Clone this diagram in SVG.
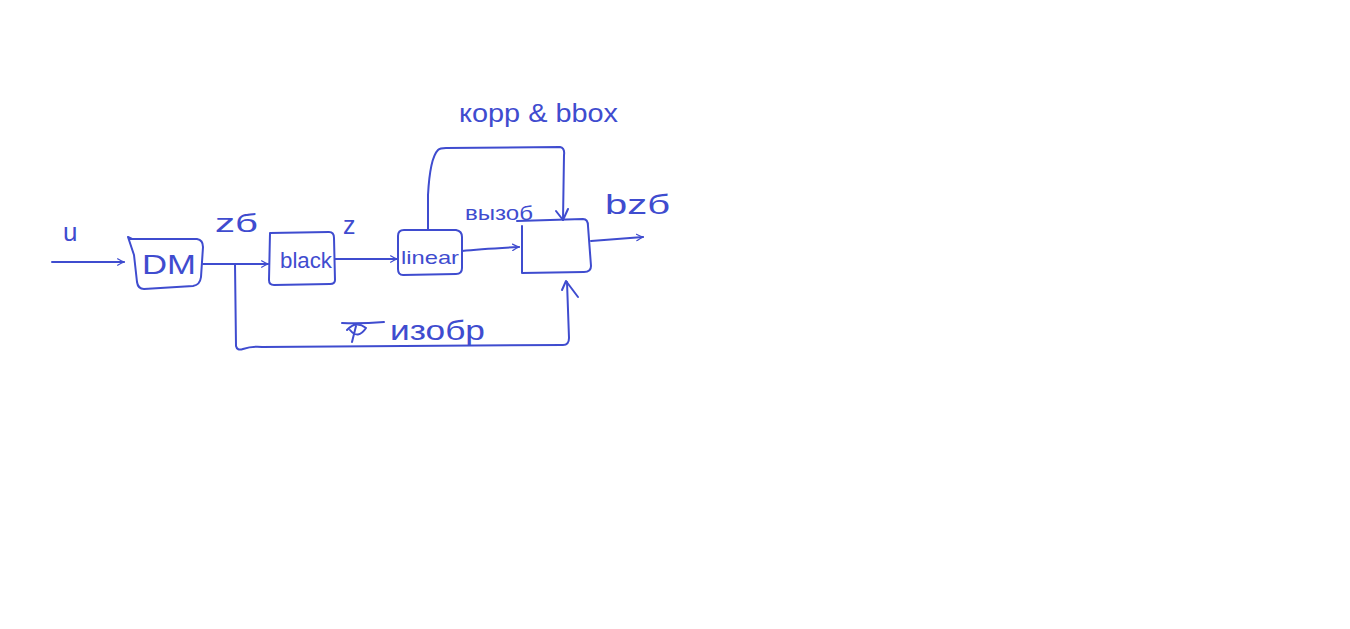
<svg xmlns="http://www.w3.org/2000/svg" width="1350" height="629" viewBox="0 0 1350 629">
<style>
.s{fill:none;stroke:#3f4ccf;stroke-width:2;stroke-linecap:round;stroke-linejoin:round}
.t{fill:#3f4ccf;font-family:"Liberation Sans","DejaVu Sans",sans-serif}
</style>
<defs>
<marker id="a" viewBox="0 0 10 10" refX="9" refY="5" markerWidth="8" markerHeight="8" orient="auto" markerUnits="userSpaceOnUse">
<path d="M1,1 Q6,4 9,5 Q6,6 1,9" fill="none" stroke="#3f4ccf" stroke-width="1.6" stroke-linecap="round"/>
</marker>
</defs>
<rect width="1350" height="629" fill="#fff"/>
<g id="connectors">
<path class="s" d="M52,262 L124,262" marker-end="url(#a)"/>
<path class="s" d="M203,264 L268,264" marker-end="url(#a)"/>
<path class="s" d="M235,264 L236,346 Q237,351 243,349 Q252,346 262,347 L563,345 Q569,345 569,338 L567,282"/>
<path class="s" d="M562,290 L566,281 L578,297"/>
<path class="s" d="M335,259 L397,259" marker-end="url(#a)"/>
<path class="s" d="M428,230 L428,195 Q430,158 438,150 Q440,148 446,148 L560,147 Q565,148 564,155 L563,220"/>
<path class="s" d="M556,211 L563,220 L568,209"/>
<path class="s" d="M462,251 Q480,249 519,247" marker-end="url(#a)"/>
<path class="s" d="M591,241 L643,237" marker-end="url(#a)"/>
</g>
<g id="n-u"><text class="t" x="63" y="241" font-size="26">u</text></g>
<g id="n-dm">
<path class="s" d="M128,237 L132,239 L197,239 Q203,240 203,247 L201,277 Q200,285 193,286 L144,289 Q138,289 137,282 L134,255 Z"/>
<text class="t" x="142" y="274" font-size="27" textLength="54" lengthAdjust="spacingAndGlyphs">DM</text>
</g>
<g id="n-zb"><text class="t" x="215" y="232" font-size="26" textLength="43" lengthAdjust="spacingAndGlyphs">zб</text></g>
<g id="n-black">
<path class="s" d="M270,233 L329,232 Q334,232 334,238 L335,280 Q335,284 330,284 L274,285 Q269,285 269,280 Z"/>
<text class="t" x="280" y="268" font-size="22" textLength="52" lengthAdjust="spacingAndGlyphs">black</text>
</g>
<g id="n-z"><text class="t" x="343" y="234" font-size="25">z</text></g>
<g id="n-linear">
<path class="s" d="M404,230 L456,230 Q462,231 462,237 L462,268 Q462,274 456,274 L403,275 Q398,275 398,269 L398,236 Q398,230 404,230 Z"/>
<text class="t" x="401" y="264" font-size="19" textLength="58" lengthAdjust="spacingAndGlyphs">linear</text>
</g>
<g id="n-korr"><text class="t" x="459" y="122" font-size="25" textLength="159" lengthAdjust="spacingAndGlyphs">корр &amp; bbox</text></g>
<g id="n-vyzob"><text class="t" x="465" y="220" font-size="21" textLength="68" lengthAdjust="spacingAndGlyphs">вызоб</text></g>
<g id="n-out">
<path class="s" d="M517,221 L583,219 Q588,219 588,226 L591,266 Q591,272 584,272 L522,273 L522,226"/>
</g>
<g id="n-bzb"><text class="t" x="605" y="214" font-size="28" textLength="65" lengthAdjust="spacingAndGlyphs">bzб</text></g>
<g id="n-izobr">
<path class="s" d="M342,323 Q360,324 384,322 M347,330 Q356,320 366,328 Q358,340 350,330 M356,326 L352,342"/>
<text class="t" x="390" y="340" font-size="28" textLength="95" lengthAdjust="spacingAndGlyphs">изобр</text>
</g>
</svg>
